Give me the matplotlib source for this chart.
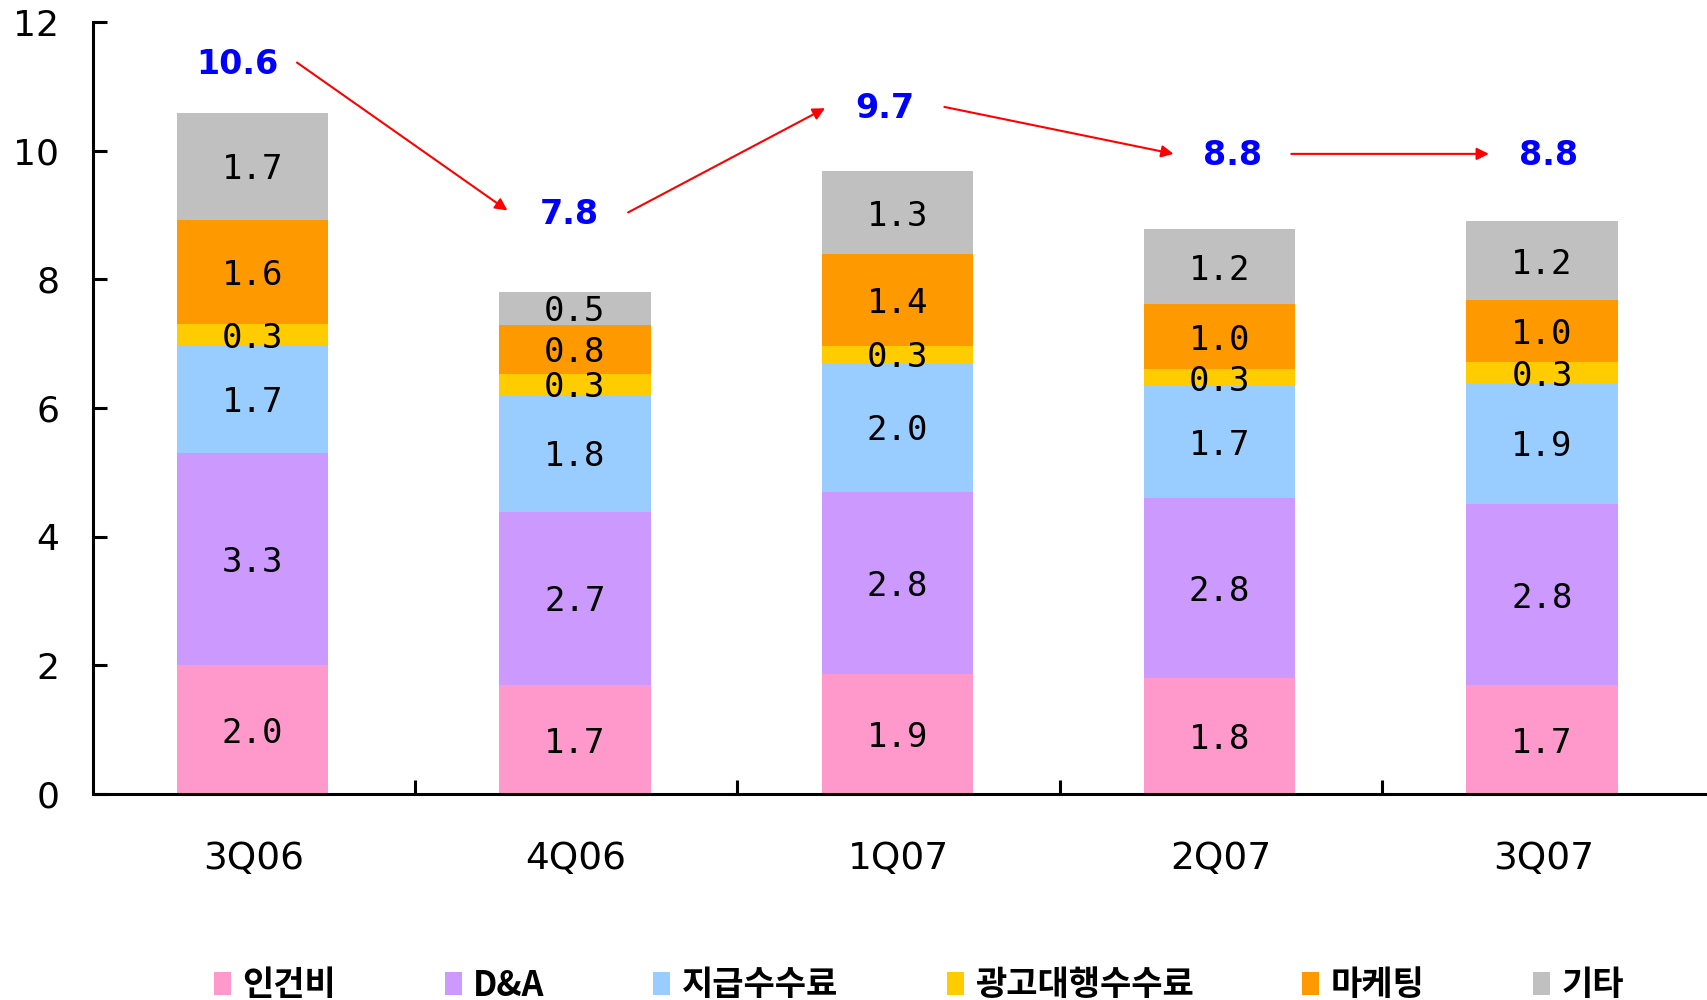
import matplotlib
matplotlib.use("Agg")
import matplotlib.pyplot as plt
import numpy as np
from matplotlib.patches import Patch

plt.rcParams['font.family'] = ['DejaVu Sans', 'Noto Sans CJK KR']

categories = ['3Q06', '4Q06', '1Q07', '2Q07', '3Q07']
series_names = ['인건비', 'D&A', '지급수수료', '광고대행수수료', '마케팅', '기타']
labor = [2.00, 1.69, 1.86, 1.80, 1.69]
da = [3.30, 2.70, 2.84, 2.80, 2.82]
fees = [1.68, 1.81, 2.00, 1.74, 1.88]
ad_agency = [0.32, 0.33, 0.27, 0.26, 0.32]
marketing = [1.62, 0.76, 1.42, 1.01, 0.97]
other = [1.67, 0.52, 1.29, 1.17, 1.22]
totals = [10.6, 7.8, 9.7, 8.8, 8.8]
colors = ['#FF99CC', '#CC99FF', '#99CCFF', '#FFCC00', '#FF9900', '#C0C0C0']

series = [labor, da, fees, ad_agency, marketing, other]

fig = plt.figure(figsize=(17.08, 10), dpi=100)
ax = fig.add_axes([0.0542, 0.206, 0.9438, 0.772])

x = np.arange(len(categories))
bottom = np.zeros(len(categories))
for vals, col, name in zip(series, colors, series_names):
    v = np.array(vals)
    ax.bar(x - 0.004, v, width=0.47, bottom=bottom, color=col, label=name, linewidth=0)
    for xi, b, h in zip(x, bottom, v):
        ax.annotate(f"{h:.1f}", xy=(xi - 0.004, b + h / 2), xytext=(0, -2.5),
                    textcoords='offset points', ha='center', va='center',
                    fontsize=24.5, family='DejaVu Sans Mono', color='black')
    bottom = bottom + v

# total labels
tot_pos_x = [-0.052, 0.98, 1.957, 3.036, 4.016]
tot_pos_y = [11.34, 9.0, 10.65, 9.93, 9.93]
for tx, ty, t in zip(tot_pos_x, tot_pos_y, totals):
    ax.text(tx, ty, f"{t:.1f}", ha='center', va='center', fontsize=24,
            fontweight='bold', color='#0000FF')

# arrows
arrows = [((0.134, 11.37), (0.787, 9.07)),
          ((1.161, 9.04), (1.772, 10.66)),
          ((2.142, 10.68), (2.853, 9.95)),
          ((3.218, 9.95), (3.831, 9.95))]
for (x0, y0), (x1, y1) in arrows:
    ax.annotate('', xy=(x1, y1), xytext=(x0, y0),
                arrowprops=dict(arrowstyle='-|>', color='#FF0000', lw=1.5,
                                mutation_scale=18, shrinkA=0, shrinkB=0))

ax.set_xlim(-0.5, 4.5)
ax.set_ylim(0, 12)
ax.set_yticks([0, 2, 4, 6, 8, 10, 12])
ax.tick_params(axis='y', direction='in', length=10, width=2.2, labelsize=26, pad=24)
ax.set_xticks([0.5, 1.5, 2.5, 3.5])
ax.set_xticklabels([])
ax.tick_params(axis='x', which='major', direction='in', length=10, width=2.2)
ax.set_xticks(x, minor=True)
ax.set_xticklabels(categories, minor=True)
ax.tick_params(axis='x', which='minor', length=0, labelsize=27, pad=34)

for s in ['top', 'right']:
    ax.spines[s].set_visible(False)
for s in ['left', 'bottom']:
    ax.spines[s].set_linewidth(2.2)

handles = [Patch(facecolor=c, edgecolor='none') for c in colors]
leg = fig.legend(handles, series_names, loc='center', bbox_to_anchor=(0.538, 0.015),
                 ncol=6, frameon=False, handlelength=0.5, handleheight=0.65,
                 handletextpad=0.33, columnspacing=3.2,
                 prop={'family': ['Noto Sans CJK KR', 'DejaVu Sans'], 'weight': 'bold', 'size': 24.5})

fig.savefig('out.png', dpi=100)
